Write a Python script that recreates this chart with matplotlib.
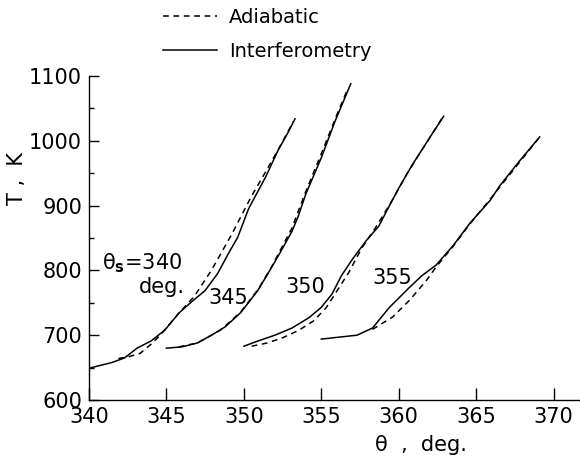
import matplotlib
matplotlib.use("Agg")
import matplotlib.pyplot as plt
from matplotlib.ticker import MultipleLocator

plt.rcParams['font.family'] = ['DejaVu Sans']
plt.rcParams['mathtext.fontset'] = 'dejavusans'

# ---- data ----
interf_340_theta = [340, 341.5, 342.3, 343.1, 344.0, 344.9, 345.8, 346.6, 347.5, 348.3, 349.0, 349.6, 350.3, 351.4, 352.2, 352.9, 353.3]
interf_340_T     = [649, 658, 665, 680, 691, 708, 734, 751, 769, 795, 826, 851, 895, 944, 985, 1015, 1034]
adiab_340_theta  = [341.9, 342.6, 343.3, 344.0, 344.6, 345.2, 345.8, 346.8, 347.9, 349.2, 350.5, 351.4, 352.3, 353.2]
adiab_340_T      = [664, 667, 672, 686, 700, 717, 734, 760, 800, 855, 915, 952, 990, 1030]

interf_345_theta = [345, 346, 347, 347.9, 348.8, 349.8, 350.9, 351.8, 352.4, 353.1, 353.5, 354.0, 355.0, 355.9, 356.9]
interf_345_T     = [680, 682, 688, 700, 713, 735, 769, 805, 830, 860, 883, 918, 974, 1031, 1088]
adiab_345_theta  = [345.8, 347, 348.5, 349.8, 350.9, 351.8, 352.5, 353.1, 354.0, 355.0, 356.0, 356.7]
adiab_345_T      = [682, 688, 708, 736, 770, 806, 838, 865, 922, 980, 1040, 1080]

interf_350_theta = [350, 350.9, 352, 353.1, 354.2, 355.0, 355.7, 356.3, 357.0, 357.9, 358.7, 359.4, 360.0, 360.9, 362.0, 362.9]
interf_350_T     = [683, 691, 700, 711, 727, 743, 764, 792, 817, 846, 868, 900, 927, 964, 1005, 1038]
adiab_350_theta  = [350.5, 351.5, 352.5, 353.5, 354.5, 355.3, 356.0, 356.8, 357.6, 358.5, 359.5, 360.5, 361.5, 362.8]
adiab_350_T      = [683, 688, 696, 707, 722, 742, 768, 798, 834, 866, 905, 948, 986, 1035]

interf_355_theta = [355, 357.3, 358.3, 359.4, 360.7, 361.5, 362.4, 363.5, 364.6, 365.9, 366.5, 367.8, 369.1]
interf_355_T     = [694, 700, 711, 743, 774, 792, 808, 838, 873, 908, 930, 969, 1006]
adiab_355_theta  = [358.3, 359.6, 360.7, 361.8, 362.4, 363.5, 364.6, 365.9, 367.0, 368.3, 369.0]
adiab_355_T      = [709, 728, 754, 785, 805, 837, 872, 910, 943, 982, 1003]

curve_labels = ['θ$_\\mathbf{s}$=340', 'deg.', '345', '350', '355']
label_theta  = [340.85, 343.25, 347.7, 352.7, 358.3]
label_T      = [811, 774, 758, 774, 789]

x_ticks = [340, 345, 350, 355, 360, 365, 370]
y_ticks = [600, 700, 800, 900, 1000, 1100]

# ---- figure ----
fig = plt.figure(figsize=(5.8, 4.61), dpi=100)
ax = fig.add_axes([89/580, 61/461, 1 - 89/580, (400-76)/461])

dash = (3.8, 3.0)
lw = 1.1
adiab_sets = [(adiab_340_theta, adiab_340_T), (adiab_345_theta, adiab_345_T),
              (adiab_350_theta, adiab_350_T), (adiab_355_theta, adiab_355_T)]
interf_sets = [(interf_340_theta, interf_340_T), (interf_345_theta, interf_345_T),
               (interf_350_theta, interf_350_T), (interf_355_theta, interf_355_T)]
h_ad = None
h_in = None
for th, T in adiab_sets:
    h_ad, = ax.plot(th, T, color='black', lw=lw, linestyle=(0, dash))
for th, T in interf_sets:
    h_in, = ax.plot(th, T, color='black', lw=lw, linestyle='-')

for s, xv, yv in zip(curve_labels, label_theta, label_T):
    ax.text(xv, yv, s, fontsize=15, ha='left', va='center', color='black')

ax.set_xlim(340, 371.7)
ax.set_ylim(600, 1100)
ax.set_xticks(x_ticks)
ax.set_yticks(y_ticks)
ax.yaxis.set_minor_locator(MultipleLocator(50))
ax.spines['top'].set_visible(False)
ax.spines['right'].set_visible(False)
ax.spines['left'].set_linewidth(1.0)
ax.spines['bottom'].set_linewidth(1.0)
ax.tick_params(axis='x', which='major', direction='in', length=8.5, width=1.0, pad=5, labelsize=15)
ax.tick_params(axis='y', which='major', direction='in', length=7, width=1.0, pad=5, labelsize=15)
ax.tick_params(axis='y', which='minor', direction='in', length=3.5, width=1.0)
ax.patch.set_alpha(0)

fig.text(17/580, 1 - 178/461, 'T ,  K', rotation=90, ha='center', va='center', fontsize=15)
fig.text(421/580, 1 - 445/461, 'θ  ,  deg.', ha='center', va='center', fontsize=15)

fig.legend([h_ad, h_in], ['Adiabatic', 'Interferometry'], loc='upper left',
           bbox_to_anchor=(163/580, 1 - 8/461), frameon=False, fontsize=14,
           handlelength=2.8, handletextpad=0.6, labelspacing=0.78,
           borderpad=0, borderaxespad=0)

fig.savefig('out.png', dpi=100)
